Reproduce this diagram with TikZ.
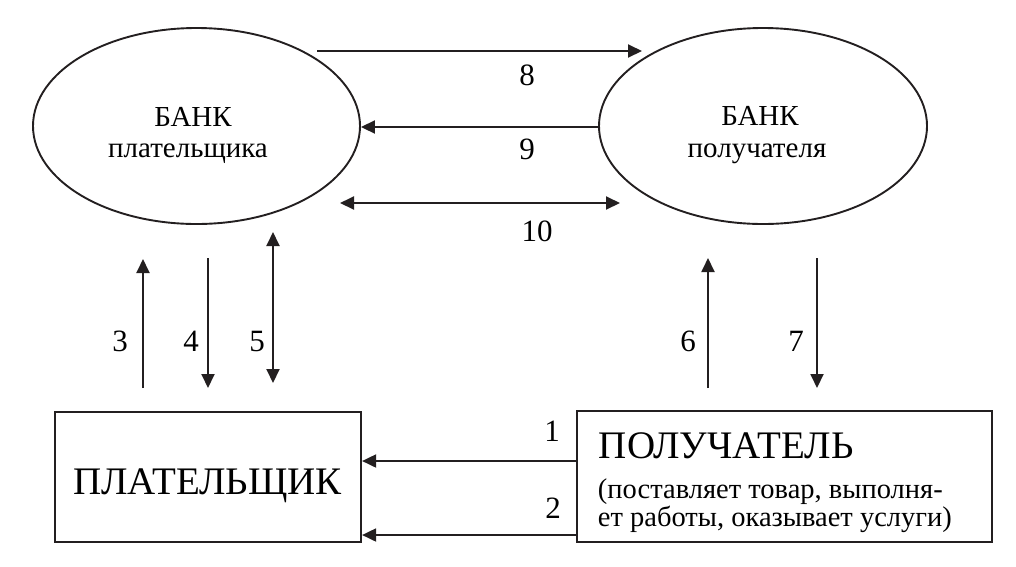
\documentclass[tikz,border=0pt]{standalone}
\usepackage{fontspec}
\setmainfont{Liberation Serif}
\usetikzlibrary{arrows.meta,shapes.geometric}
\begin{document}
\begin{tikzpicture}[x=1pt,y=-1pt,
  line width=1.9pt, draw={rgb,255:red,35;green,31;blue,32},
  bankshape/.style={draw, ellipse, inner sep=0pt},
  partybox/.style={draw, rectangle, inner sep=0pt, line width=2.2pt},
  flow/.style={-{Triangle[length=14pt,width=13pt]}},
  bothflow/.style={{Triangle[length=14pt,width=13pt]}-{Triangle[length=14pt,width=13pt]}},
  num/.style={anchor=base, inner sep=0pt, font=\fontsize{31}{31}\selectfont},
  banktxt/.style={anchor=base, inner sep=0pt, font=\fontsize{29}{29}\selectfont},
  bigtxt/.style={inner sep=0pt, font=\fontsize{39}{39}\selectfont},
  smalltxt/.style={anchor=base west, inner sep=0pt, align=left, font=\fontsize{28.5}{26}\selectfont}
]
\useasboundingbox (0,0) rectangle (1016,566);

% nodes
\node[bankshape, minimum width=327pt, minimum height=196pt] (bankP) at (196.5,126) {};
\node[bankshape, minimum width=328pt, minimum height=196pt] (bankR) at (763,126) {};
\node[partybox, minimum width=306pt, minimum height=130pt] (payer) at (208,477) {};
\node[partybox, minimum width=415pt, minimum height=131pt] (recip) at (784.5,476.5) {};

% texts
\node[banktxt] (bankPa) at (193,126) {БАНК};
\node[banktxt] (bankPb) at (188,157) {плательщика};
\node[banktxt] (bankRa) at (760,125) {БАНК};
\node[banktxt] (bankRb) at (757,157) {получателя};
\node[bigtxt, anchor=base] (payertxt) at (207.5,494) {ПЛАТЕЛЬЩИК};
\node[bigtxt, anchor=base west] (reciptxt) at (598,458) {ПОЛУЧАТЕЛЬ};
\node[smalltxt] (recipsub) at (597,526) {(поставляет товар, выполня-\\ет работы, оказывает услуги)};

% connector end points
\coordinate (c8s) at (317,51);
\coordinate (c8e) at (642,51);
\coordinate (c10s) at (340,203);
\coordinate (c10e) at (620,203);
\coordinate (c3s) at (143,388);
\coordinate (c3e) at (143,259);
\coordinate (c4s) at (208,258);
\coordinate (c4e) at (208,388);
\coordinate (c5s) at (273,232);
\coordinate (c5e) at (273,383);
\coordinate (c6s) at (708,388);
\coordinate (c6e) at (708,258);
\coordinate (c7s) at (817,258);
\coordinate (c7e) at (817,388);

% connectors
\draw[flow] (c8s) -- (c8e);
\draw[flow] (bankR.west |- 0,127) -- (bankP.east |- 0,127);
\draw[bothflow] (c10s) -- (c10e);
\draw[flow] (c3s) -- (c3e);
\draw[flow] (c4s) -- (c4e);
\draw[bothflow] (c5s) -- (c5e);
\draw[flow] (c6s) -- (c6e);
\draw[flow] (c7s) -- (c7e);
\draw[flow] (recip.west |- 0,461) -- (payer.east |- 0,461);
\draw[flow] (recip.west |- 0,535) -- (payer.east |- 0,535);

% labels
\node[num] (l1) at (552,441) {1};
\node[num] (l2) at (553,518) {2};
\node[num] (l3) at (120,351) {3};
\node[num] (l4) at (191,351) {4};
\node[num] (l5) at (257,351) {5};
\node[num] (l6) at (688,351) {6};
\node[num] (l7) at (796,351) {7};
\node[num] (l8) at (527,85) {8};
\node[num] (l9) at (527,159) {9};
\node[num] (l10) at (537,241) {10};
\end{tikzpicture}
\end{document}
